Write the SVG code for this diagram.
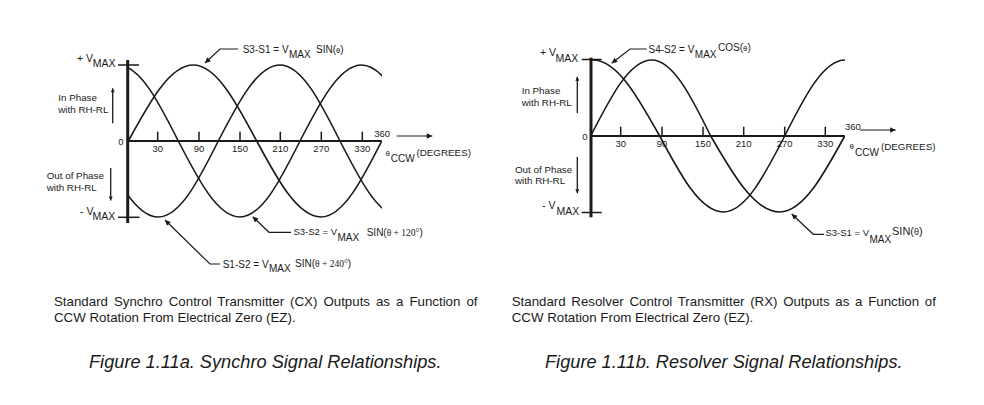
<svg xmlns="http://www.w3.org/2000/svg" width="984" height="405" viewBox="0 0 984 405">
<style>
text { font-family: "Liberation Sans", Arial, sans-serif; fill: #1a1a1a; }
.crv { fill: none; stroke: #1a1a1a; stroke-width: 1.6; }
.ax { fill: none; stroke: #1a1a1a; stroke-width: 2; }
.vax { fill: none; stroke: #1a1a1a; stroke-width: 3; }
.tk { fill: none; stroke: #1a1a1a; stroke-width: 1.5; }
.ld { fill: none; stroke: #1a1a1a; stroke-width: 1.2; }
.sm { fill: none; stroke: #1a1a1a; stroke-width: 1.3; }
.t10 { font-size: 10px; }
.t95 { font-size: 9.5px; }
.tick { font-size: 9.5px; text-anchor: middle; }
.lbl { font-size: 9.8px; }
.vm { font-size: 10.5px; }
.serif { font-family: "Liberation Serif", "Times New Roman", serif; }
.cap { font-size: 13.3px; }
.fig { font-size: 18.2px; font-style: italic; }
</style>
<defs>
<marker id="ah" viewBox="0 0 10 10" refX="10" refY="5" markerWidth="8" markerHeight="5.5" markerUnits="userSpaceOnUse" orient="auto">
<path d="M0,0 L10,5 L0,10 z" fill="#1a1a1a"/>
</marker>
<marker id="sa" viewBox="0 0 10 10" refX="10" refY="5" markerWidth="6" markerHeight="4" markerUnits="userSpaceOnUse" orient="auto">
<path d="M0,0 L10,5 L0,10 z" fill="#1a1a1a"/>
</marker>
<clipPath id="clipL"><rect x="127.5" y="0" width="254.5" height="300"/></clipPath>
<clipPath id="clipR"><rect x="590.5" y="0" width="255" height="300"/></clipPath>
</defs>

<g id="chart-a">
<g id="a-curves" clip-path="url(#clipL)">
<path id="a-s3s1" class="crv" d="M128.3,141 C149.5,102.07 169.78,65 193.3,65 C216.24,65 236.03,102.07 256.7,141 C277.67,179.93 297.73,217 321,217 C342.97,217 361.91,179.93 381.7,141"/>
<path id="a-s1s2" class="crv" d="M97,141 C116.99,179.93 136.12,217 158.3,217 C180.01,217 198.73,179.93 218.3,141 C238.42,102.07 257.67,65 280,65 C301.71,65 320.43,102.07 340,141 C359.89,179.93 378.92,217 401,217"/>
<path id="a-s3s2" class="crv" d="M118,65 C139.82,65 158.64,102.07 178.3,141 C198.42,179.93 217.67,217 240,217 C261.71,217 280.43,179.93 300,141 C320.12,102.07 339.37,65 361.7,65 C383.41,65 402.13,102.07 421.7,141"/>
</g>
<g id="a-axes">
<line class="vax" x1="127.7" y1="60" x2="127.7" y2="223"/>
<line class="ax" x1="127.7" y1="141" x2="381.7" y2="141"/>
<line class="tk" x1="118" y1="65" x2="139" y2="65"/>
<line class="tk" x1="118" y1="217.3" x2="139.5" y2="217.3"/>
<line class="tk" x1="157.7" y1="131.7" x2="157.7" y2="141"/>
<line class="tk" x1="199" y1="131.7" x2="199" y2="141"/>
<line class="tk" x1="240" y1="131.7" x2="240" y2="141"/>
<line class="tk" x1="280.3" y1="131.7" x2="280.3" y2="141"/>
<line class="tk" x1="321.3" y1="131.7" x2="321.3" y2="141"/>
<line class="tk" x1="362.3" y1="131.7" x2="362.3" y2="141"/>
</g>
<g id="a-labels">
<text class="tick" x="157.7" y="151.7">30</text>
<text class="tick" x="199" y="151.7">90</text>
<text class="tick" x="240" y="151.7">150</text>
<text class="tick" x="280.3" y="151.7">210</text>
<text class="tick" x="321.3" y="151.7">270</text>
<text class="tick" x="362.3" y="151.7">330</text>
<text class="t95" x="374.3" y="136.7">360</text>
<text class="tick" x="121" y="144.5">0</text>
<text class="vm" x="77" y="62">+ V</text>
<text class="vm" x="92.8" y="67">MAX</text>
<text class="vm" x="80" y="214.5">- V</text>
<text class="vm" x="92.5" y="219.5">MAX</text>
<text class="lbl" x="58.3" y="101">In Phase</text>
<text class="lbl" x="58.3" y="112.8">with RH-RL</text>
<text class="lbl" x="46.7" y="179">Out of Phase</text>
<text class="lbl" x="46.7" y="190.8">with RH-RL</text>
<text x="385.5" y="156" style="font-size:8px">θ</text>
<text class="t10" x="390.7" y="161.7">CCW</text>
<text class="lbl" x="416.5" y="156">(DEGREES)</text>
<text class="t10" x="242.7" y="52.7">S3-S1 = V</text>
<text class="t10" x="289" y="57.7">MAX</text>
<text class="t10" x="316" y="52.5">SIN(<tspan style="font-size:7.5px">θ</tspan>)</text>
<text class="t95" x="293.5" y="235.3">S3-S2 = V</text>
<text class="t10" x="337.5" y="240.7">MAX</text>
<text class="t10" x="366.7" y="235.5">SIN(<tspan class="serif" style="font-size:9.5px">θ + 120°</tspan>)</text>
<text class="t10" x="222.7" y="267.5">S1-S2 = V</text>
<text class="t10" x="269" y="272">MAX</text>
<text class="t10" x="295" y="266.7">SIN(<tspan class="serif" style="font-size:9.5px">θ + 240°</tspan>)</text>
</g>
</g>

<g id="chart-b">
<g id="b-curves" clip-path="url(#clipR)">
<path id="b-s3s1" class="crv" d="M590.7,136 C610.59,97.07 629.62,60 651.7,60 C673.05,60 691.46,97.07 710.7,136 C733.2,174.93 754.73,212 779.7,212 C803.22,212 823.5,174.93 844.7,136"/>
<path id="b-s4s2" class="crv" d="M531,136 C551.22,97.07 570.56,60 593,60 C617.14,60 637.95,97.07 659.7,136 C680.44,174.93 700.28,212 723.3,212 C745.52,212 764.68,174.93 784.7,136 C804.36,97.07 823.18,60 845,60"/>
</g>
<g id="b-axes">
<line class="vax" x1="591" y1="57.7" x2="591" y2="217.3"/>
<line class="ax" x1="591" y1="136" x2="844.7" y2="136"/>
<line class="tk" x1="581.7" y1="59.5" x2="601.7" y2="59.5"/>
<line class="tk" x1="581.7" y1="212.5" x2="601.7" y2="212.5"/>
<line class="tk" x1="620.7" y1="126.7" x2="620.7" y2="136"/>
<line class="tk" x1="662" y1="126.7" x2="662" y2="136"/>
<line class="tk" x1="703" y1="126.7" x2="703" y2="136"/>
<line class="tk" x1="743.7" y1="126.7" x2="743.7" y2="136"/>
<line class="tk" x1="784.7" y1="126.7" x2="784.7" y2="136"/>
<line class="tk" x1="825.3" y1="126.7" x2="825.3" y2="136"/>
</g>
<g id="b-labels">
<text class="tick" x="620.7" y="146.7">30</text>
<text class="tick" x="662" y="146.7">90</text>
<text class="tick" x="703" y="146.7">150</text>
<text class="tick" x="743.7" y="146.7">210</text>
<text class="tick" x="784.7" y="146.7">270</text>
<text class="tick" x="825.3" y="146.7">330</text>
<text class="t95" x="845" y="130">360</text>
<text class="tick" x="585" y="139.5">0</text>
<text class="vm" x="540" y="55.5">+ V</text>
<text class="vm" x="555.5" y="61.5">MAX</text>
<text class="vm" x="542" y="209">- V</text>
<text class="vm" x="556.5" y="214.7">MAX</text>
<text class="lbl" x="521.7" y="94.3">In Phase</text>
<text class="lbl" x="521.7" y="106">with RH-RL</text>
<text class="lbl" x="515" y="173">Out of Phase</text>
<text class="lbl" x="515" y="184.3">with RH-RL</text>
<text x="849.5" y="149" style="font-size:8px">θ</text>
<text class="t10" x="855" y="156.3">CCW</text>
<text class="lbl" x="881" y="150.3">(DEGREES)</text>
<text class="t10" x="648.5" y="52.7">S4-S2 = V</text>
<text class="t10" x="694.8" y="58.3">MAX</text>
<text class="t10" x="718" y="50.7">COS(<tspan style="font-size:8px">θ</tspan>)</text>
<text class="t95" x="825.5" y="236">S3-S1 = V</text>
<text class="t10" x="869.5" y="242.7">MAX</text>
<text x="892" y="235" style="font-size:11px">SIN(<tspan style="font-size:9px">θ</tspan>)</text>
</g>
</g>

<g id="connectors">
<path class="ld" d="M238,49 H220 L205,63" marker-end="url(#ah)"/>
<path class="ld" d="M291,232.3 H269 L252.7,216.7" marker-end="url(#ah)"/>
<path class="ld" d="M220,264 H210 L165,220" marker-end="url(#ah)"/>
<path class="ld" d="M646.7,49 H630 L611.7,63.3" marker-end="url(#ah)"/>
<path class="ld" d="M824,234.3 H813.3 L791.7,214" marker-end="url(#ah)"/>
<line class="ld" x1="396.7" y1="136" x2="432.3" y2="136" marker-end="url(#ah)"/>
<line class="ld" x1="860" y1="130" x2="895.7" y2="130" marker-end="url(#ah)"/>
<line class="sm" x1="112.7" y1="123.3" x2="112.7" y2="88.3" marker-end="url(#sa)"/>
<line class="sm" x1="110.7" y1="168" x2="110.7" y2="200.5" marker-end="url(#sa)"/>
<line class="sm" x1="577.3" y1="113" x2="577.3" y2="76.7" marker-end="url(#sa)"/>
<line class="sm" x1="577.3" y1="157" x2="577.3" y2="193.3" marker-end="url(#sa)"/>
</g>

<g id="captions">
<text class="cap" x="54" y="305.7" style="word-spacing:2.3px">Standard Synchro Control Transmitter (CX) Outputs as a Function of</text>
<text class="cap" x="54" y="322.3">CCW Rotation From Electrical Zero (EZ).</text>
<text class="fig" x="89" y="368">Figure 1.11a. Synchro Signal Relationships.</text>
<text class="cap" x="511.7" y="305.7" style="word-spacing:1.97px">Standard Resolver Control Transmitter (RX) Outputs as a Function of</text>
<text class="cap" x="511.7" y="322.3">CCW Rotation From Electrical Zero (EZ).</text>
<text class="fig" x="545" y="368">Figure 1.11b. Resolver Signal Relationships.</text>
</g>
</svg>
